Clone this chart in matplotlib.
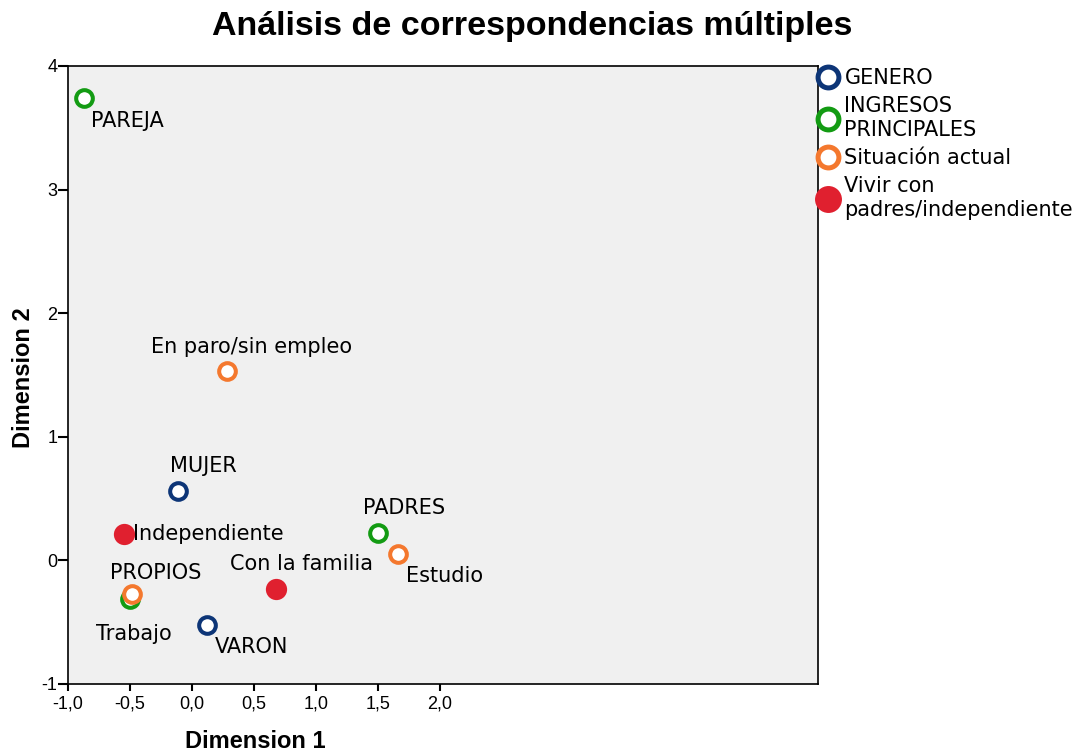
import numpy as np
import matplotlib
matplotlib.use('Agg')
import matplotlib.pyplot as plt
from matplotlib.lines import Line2D
from matplotlib.ticker import FuncFormatter

# --- Data ---
genero_labels = ['MUJER', 'VARON']
genero_x = [-0.11, 0.12]
genero_y = [0.56, -0.52]

ingresos_labels = ['PAREJA', 'PADRES', 'PROPIOS']
ingresos_x = [-0.87, 1.50, -0.50]
ingresos_y = [3.74, 0.22, -0.31]

situacion_labels = ['En paro/sin empleo', 'Estudio', 'Trabajo']
situacion_x = [0.28, 1.66, -0.48]
situacion_y = [1.53, 0.05, -0.27]

vivir_labels = ['Independiente', 'Con la familia']
vivir_x = [-0.55, 0.68]
vivir_y = [0.21, -0.23]

legend_labels = ['GENERO', 'INGRESOS\nPRINCIPALES', 'Situación actual',
                 'Vivir con\npadres/independiente']

# label offsets in pixels (dx, dy, ha)
label_offsets = {
    'PAREJA': (7, -23, 'left'),
    'PADRES': (26, 25, 'center'),
    'PROPIOS': (26, 26, 'center'),
    'MUJER': (25, 25, 'center'),
    'VARON': (8, -22, 'left'),
    'En paro/sin empleo': (25, 24, 'center'),
    'Estudio': (8, -22, 'left'),
    'Trabajo': (1, -40, 'center'),
    'Independiente': (9, 0, 'left'),
    'Con la familia': (25, 25, 'center'),
}

NAVY = '#0d3577'
GREEN = '#139b13'
ORANGE = '#f4782e'
RED = '#e0202f'
LABEL_FONT = 'DejaVu Sans'
AXIS_FONT = 'Liberation Sans'

fig = plt.figure(figsize=(10.88, 7.56), dpi=100)
ax = fig.add_axes([68 / 1088, 1 - 684 / 756, 750 / 1088, 618 / 756])
ax.set_facecolor('#f0f0f0')

ms = 12
mew = 2.9
ax.plot(genero_x, genero_y, 'o', ms=ms, mfc='white', mec=NAVY, mew=mew, ls='none', zorder=3)
ax.plot(ingresos_x, ingresos_y, 'o', ms=ms, mfc='white', mec=GREEN, mew=mew, ls='none', zorder=3)
ax.plot(situacion_x, situacion_y, 'o', ms=ms, mfc='white', mec=ORANGE, mew=mew, ls='none', zorder=4)
ax.plot(vivir_x, vivir_y, 'o', ms=15.3, mfc=RED, mec=RED, mew=0, ls='none', zorder=3)

for labels, xs, ys in [(genero_labels, genero_x, genero_y),
                       (ingresos_labels, ingresos_x, ingresos_y),
                       (situacion_labels, situacion_x, situacion_y),
                       (vivir_labels, vivir_x, vivir_y)]:
    for lab, x, y in zip(labels, xs, ys):
        dx, dy, ha = label_offsets[lab]
        ax.annotate(lab, (x, y), xytext=(dx, dy), textcoords='offset pixels',
                    ha=ha, va='center', fontsize=15, family=LABEL_FONT, zorder=5)

ax.set_xlim(-1.0, 5.05)
ax.set_ylim(-1, 4)
ax.set_xticks([-1.0, -0.5, 0.0, 0.5, 1.0, 1.5, 2.0])
ax.set_yticks([-1, 0, 1, 2, 3, 4])
ax.xaxis.set_major_formatter(FuncFormatter(lambda v, p: f'{v:.1f}'.replace('.', ',')))
ax.yaxis.set_major_formatter(FuncFormatter(lambda v, p: f'{v:.0f}'))
ax.tick_params(axis='x', direction='out', length=5, width=1.5, labelsize=13, pad=3)
ax.tick_params(axis='y', direction='out', length=7, width=1.5, labelsize=13, pad=0.5)
for t in ax.get_xticklabels() + ax.get_yticklabels():
    t.set_family(AXIS_FONT)
for s in ax.spines.values():
    s.set_linewidth(1.2)

# axis titles (x title is centred under the labelled ticks, like SPSS)
fig.text(255 / 1088, 1 - 742 / 756, 'Dimension 1', ha='center', va='center',
         fontsize=17, fontweight='bold', family=AXIS_FONT)
fig.text(24 / 1088, 1 - 378 / 756, 'Dimension 2', ha='center', va='center', rotation=90,
         fontsize=17, fontweight='bold', family=AXIS_FONT)
fig.text(532 / 1088, 1 - 26 / 756, 'Análisis de correspondencias múltiples', ha='center', va='center',
         fontsize=24.5, fontweight='bold', family=AXIS_FONT)

handles = [
    Line2D([], [], marker='o', ls='none', ms=15, mfc='white', mec=NAVY, mew=3.6),
    Line2D([], [], marker='o', ls='none', ms=15, mfc='white', mec=GREEN, mew=3.6),
    Line2D([], [], marker='o', ls='none', ms=15, mfc='white', mec=ORANGE, mew=3.6),
    Line2D([], [], marker='o', ls='none', ms=19.4, mfc=RED, mec=RED, mew=0),
]
leg = ax.legend(handles, legend_labels, loc='upper left', bbox_to_anchor=(0.988, 1.01),
                frameon=False, handlelength=1.0, handletextpad=0.3, borderaxespad=0,
                labelspacing=0.4, prop={'family': LABEL_FONT, 'size': 15})
for t in leg.get_texts():
    t.set_linespacing(1.2)

fig.savefig('out.png', dpi=100)
